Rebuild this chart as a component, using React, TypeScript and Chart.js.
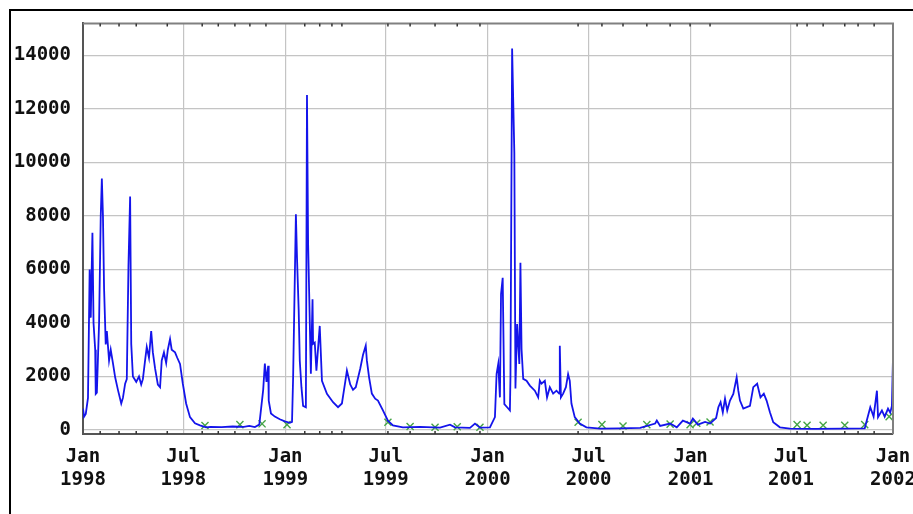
import React, { useEffect, useRef } from "react";
import { Chart, registerables } from "chart.js";
Chart.register(...registerables);

// Days since 1 Jan 1998
const flowDays = [0, 2, 5, 9, 12, 14, 17, 19, 22, 23, 25, 29, 32, 34, 36, 38, 41, 43, 47, 50, 54, 58, 63, 69, 72, 76, 79, 82, 85, 87, 90, 96, 101, 105, 108, 112, 115, 119, 123, 126, 130, 135, 139, 142, 146, 150, 153, 157, 160, 166, 170, 175, 180, 186, 193, 202, 211, 222, 230, 250, 270, 290, 300, 310, 318, 325, 328, 331, 334, 335, 339, 346, 355, 364, 373, 377, 379, 384, 386, 389, 391, 394, 397, 402, 404, 406, 408, 411, 414, 415, 418, 421, 427, 431, 440, 451, 460, 467, 473, 476, 482, 487, 492, 500, 505, 510, 512, 516, 521, 527, 532, 541, 550, 559, 577, 608, 644, 662, 671, 698, 707, 716, 734, 743, 746, 749, 752, 754, 757, 760, 765, 770, 771, 774, 778, 780, 783, 787, 789, 791, 794, 800, 806, 815, 821, 824, 827, 833, 837, 842, 848, 854, 859, 860, 862, 866, 871, 875, 878, 881, 887, 896, 908, 933, 969, 1005, 1032, 1035, 1041, 1059, 1071, 1082, 1095, 1100, 1109, 1122, 1131, 1142, 1146, 1150, 1154, 1158, 1162, 1167, 1173, 1179, 1182, 1185, 1191, 1203, 1209, 1216, 1222, 1228, 1233, 1239, 1245, 1257, 1275, 1320, 1370, 1410, 1413, 1420, 1426, 1432, 1434, 1441, 1446, 1452, 1456, 1459, 1461];
const flowValues = [800, 500, 600, 1200, 6000, 4200, 7370, 4000, 3000, 1350, 1400, 4000, 8000, 9400, 8000, 5300, 3200, 3700, 2600, 3000, 2500, 1970, 1500, 990, 1200, 1730, 1900, 6130, 8730, 3220, 2000, 1800, 2000, 1700, 1900, 2600, 3100, 2700, 3700, 2900, 2300, 1700, 1600, 2600, 2900, 2500, 3000, 3400, 3000, 2900, 2700, 2470, 1730, 990, 480, 250, 170, 100, 120, 110, 130, 120, 150, 110, 200, 1500, 2480, 1800, 2400, 1100, 620, 500, 400, 320, 270, 300, 1970, 8060, 6440, 4500, 2590, 1600, 900, 850, 12520, 7000, 5070, 2100, 4890, 3220, 3270, 2220, 3890, 1840, 1350, 1040, 850, 990, 1800, 2220, 1700, 1500, 1600, 2290, 2800, 3150, 2600, 1970, 1360, 1170, 1100, 730, 350, 170, 100, 120, 90, 200, 100, 80, 240, 90, 100, 480, 2100, 2470, 1220, 5080, 5690, 970, 850, 730, 1970, 14260, 10350, 1550, 3960, 2470, 6250, 3030, 1910, 1840, 1660, 1470, 1220, 1840, 1730, 1840, 1220, 1600, 1360, 1470, 1360, 3150, 1220, 1360, 1600, 2090, 1840, 990, 480, 240, 100, 50, 60, 80, 240, 350, 150, 240, 100, 350, 240, 430, 200, 300, 240, 450, 850, 1040, 660, 1170, 730, 1100, 1350, 1970, 1470, 1100, 800, 900, 1600, 1730, 1220, 1360, 1100, 660, 290, 100, 50, 40, 50, 60, 300, 850, 500, 1470, 480, 730, 500, 800, 650, 900, 2710];

const sampleDays = [220, 283, 323, 368, 550, 590, 635, 675, 716, 893, 936, 974, 1017, 1059, 1095, 1107, 1131, 1288, 1306, 1335, 1374, 1410, 1454];
const sampleValues = [170, 200, 230, 200, 290, 130, 100, 120, 100, 290, 200, 150, 200, 220, 200, 250, 300, 200, 180, 180, 180, 200, 500];

const rugDays = [31, 65, 96, 152, 215, 244, 274, 301, 330, 400, 427, 449, 467, 550, 590, 635, 675, 716, 893, 936, 974, 1017, 1059, 1095, 1131, 1288, 1306, 1335, 1374, 1398, 1427];

const xTickDays = [0, 181, 365, 546, 730, 912, 1096, 1277, 1461];
const xTickLabels = [["Jan", "1998"], ["Jul", "1998"], ["Jan", "1999"], ["Jul", "1999"], ["Jan", "2000"], ["Jul", "2000"], ["Jan", "2001"], ["Jul", "2001"], ["Jan", "2002"]];
const yTicks = [0, 2000, 4000, 6000, 8000, 10000, 12000, 14000];

const FONT = { family: "'DejaVu Sans Mono', monospace", size: 19, weight: "bold" as const, lineHeight: 1.2 };

export default function App() {
  const ref = useRef<HTMLCanvasElement | null>(null);
  useEffect(() => {
    if (!ref.current) return;
    const framePlugin = {
      id: "frame",
      afterDraw(chart: any) {
        const { ctx, chartArea } = chart;
        const x = chart.scales.x;
        ctx.save();
        ctx.strokeStyle = "#808080";
        ctx.lineWidth = 2;
        ctx.beginPath();
        ctx.moveTo(chartArea.left, chartArea.top);
        ctx.lineTo(chartArea.right, chartArea.top);
        ctx.lineTo(chartArea.right, chartArea.bottom);
        ctx.stroke();
        ctx.strokeStyle = "#333";
        ctx.lineWidth = 1.5;
        ctx.beginPath();
        for (const d of rugDays) {
          const px = x.getPixelForValue(d);
          ctx.moveTo(px, chartArea.bottom);
          ctx.lineTo(px, chartArea.bottom - 3);
          ctx.moveTo(px, chartArea.top);
          ctx.lineTo(px, chartArea.top + 3);
        }
        ctx.stroke();
        ctx.restore();
      },
    };
    const chart = new Chart(ref.current, {
      type: "line",
      data: {
        datasets: [
          {
            data: flowDays.map((d, i) => ({ x: d, y: flowValues[i] })),
            borderColor: "rgb(20,20,235)",
            borderWidth: 1.8,
            pointRadius: 0,
            tension: 0,
            fill: false,
          },
          {
            data: sampleDays.map((d, i) => ({ x: d, y: sampleValues[i] })),
            showLine: false,
            pointStyle: "crossRot",
            pointRadius: 5,
            borderColor: "rgb(70,165,70)",
            borderWidth: 1.4,
          },
        ],
      },
      options: {
        animation: false,
        responsive: false,
        devicePixelRatio: 1,
        layout: { padding: { top: 22, right: 20, left: 0, bottom: 0 } },
        plugins: { legend: { display: false }, tooltip: { enabled: false } },
        scales: {
          x: {
            type: "linear",
            min: 0,
            max: 1461,
            afterBuildTicks: (s: any) => {
              s.ticks = xTickDays.map((v) => ({ value: v }));
            },
            afterFit: (s: any) => {
              s.height = 80;
              s.paddingLeft = 0;
              s.paddingRight = 0;
            },
            ticks: {
              autoSkip: false,
              maxRotation: 0,
              minRotation: 0,
              padding: 12,
              color: "#111",
              font: FONT,
              callback: (v: any) => {
                const i = xTickDays.indexOf(Number(v));
                return i >= 0 ? xTickLabels[i] : "";
              },
            },
            grid: { color: "#c4c4c4", lineWidth: 1.2, drawTicks: false },
            border: { display: true, color: "#555", width: 2 },
          },
          y: {
            type: "linear",
            min: -150,
            max: 15200,
            afterBuildTicks: (s: any) => {
              s.ticks = yTicks.map((v) => ({ value: v }));
            },
            afterFit: (s: any) => {
              s.width = 83;
            },
            ticks: {
              padding: 12,
              color: "#111",
              font: FONT,
              callback: (v: any) => String(v),
            },
            grid: { color: "#c4c4c4", lineWidth: 1.2, drawTicks: false },
            border: { display: true, color: "#555", width: 2 },
          },
        },
      },
      plugins: [framePlugin],
    } as any);
    return () => chart.destroy();
  }, []);
  return (
    <>
      <div
        style={{
          position: "fixed",
          left: 9,
          top: 9,
          right: 0,
          bottom: 0,
          borderLeft: "2px solid #000",
          borderTop: "2px solid #000",
        }}
      />
      <canvas
        ref={ref}
        width={913}
        height={514}
        style={{ position: "fixed", left: 0, top: 0, width: 913, height: 514 }}
      />
    </>
  );
}
